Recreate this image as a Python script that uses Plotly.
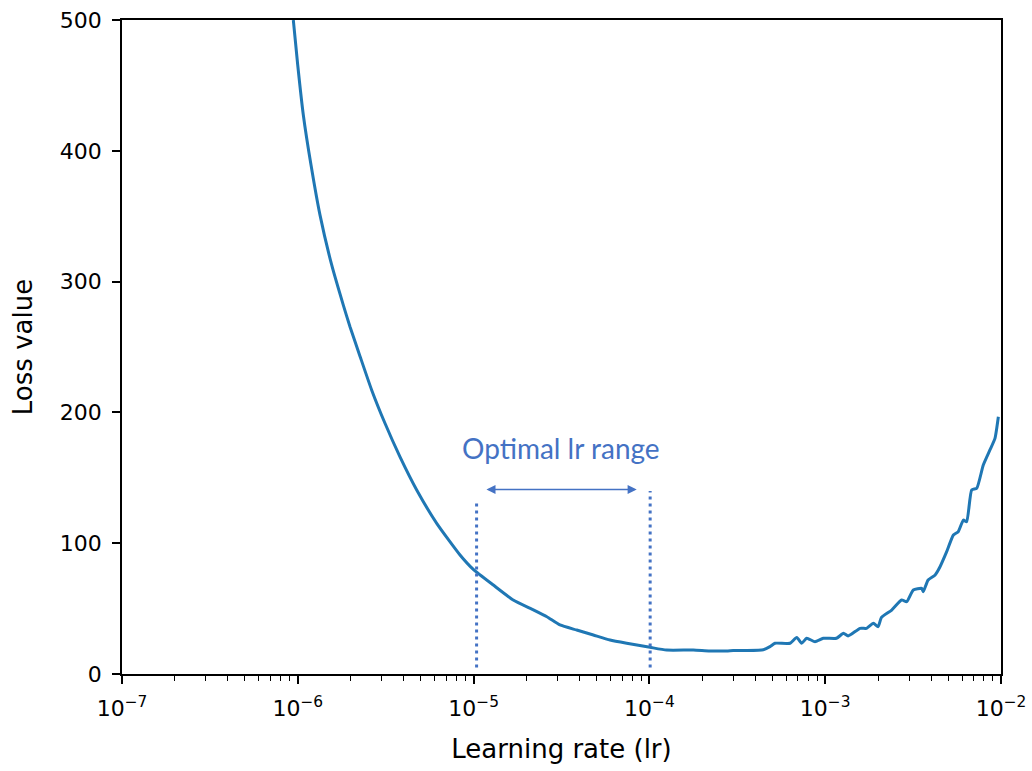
import math
import plotly.graph_objects as go

# Learning-rate range test: loss recorded at each learning rate
lr = [
    9.43e-7, 9.99e-7, 1.075e-6, 1.189e-6, 1.337e-6, 1.559e-6, 1.815e-6, 1.981e-6,
    2.258e-6, 2.633e-6, 3.133e-6, 3.814e-6, 4.746e-6, 6.168e-6, 8.37e-6, 9.96e-6,
    1.295e-5, 1.68e-5, 2.19e-5, 2.61e-5, 3.10e-5, 3.86e-5, 4.80e-5, 5.97e-5,
    7.43e-5, 1.008e-4, 1.253e-4, 1.778e-4, 2.20e-4, 2.75e-4, 3.00e-4, 3.50e-4,
    4.45e-4, 4.85e-4, 5.18e-4, 6.31e-4, 6.89e-4, 7.34e-4, 7.85e-4, 8.75e-4,
    9.75e-4, 1.16e-3, 1.27e-3, 1.35e-3, 1.58e-3, 1.72e-3, 1.88e-3, 2.00e-3,
    2.09e-3, 2.39e-3, 2.72e-3, 2.91e-3, 3.17e-3, 3.54e-3, 3.61e-3, 3.85e-3,
    4.22e-3, 4.50e-3, 4.91e-3, 5.36e-3, 5.71e-3, 6.11e-3, 6.38e-3, 6.81e-3,
    7.28e-3, 7.93e-3, 8.65e-3, 9.24e-3, 9.66e-3,
]
loss = [
    500, 465.6, 427.4, 389.1, 351, 312.7, 282, 265.5,
    243, 217, 191.7, 166, 140.7, 115.2, 91, 80,
    68, 56.6, 49, 43.8, 37.5, 33.6, 29.8, 26,
    23.5, 20.4, 18.3, 18.3, 17.6, 17.6, 17.9, 18.0,
    18.6, 20.9, 23.5, 23.5, 28, 23.5, 27.3, 24.7,
    27.3, 27.3, 31.1, 29.1, 34.9, 34.9, 38.8, 36.2,
    43.3, 48.9, 56.6, 55.3, 64.2, 65.5, 62.9, 71.9,
    75.7, 82, 93.5, 106.3, 108.8, 117.7, 116.4, 140.7,
    142, 159.8, 171.3, 180.2, 196.7,
]

# Bounds of the suggested learning-rate window
range_low = 1.04e-5
range_high = 1.01e-4
range_top_low = 133
range_top_high = 140
range_bottom = 5
arrow_loss = 141
arrow_left = 1.16e-5
arrow_right = 8.47e-5

x_major = [1e-7, 1e-6, 1e-5, 1e-4, 1e-3, 1e-2]
x_major_text = ["10<sup>\u22127</sup>", "10<sup>\u22126</sup>", "10<sup>\u22125</sup>",
                "10<sup>\u22124</sup>", "10<sup>\u22123</sup>", "10<sup>\u22122</sup>"]
y_ticks = [0, 100, 200, 300, 400, 500]

x_minor = [m * d for d in x_major[:-1] for m in range(2, 10)]

ACCENT = "#4472C4"
FONT = "DejaVu Sans"

fig = go.Figure()
fig.add_trace(go.Scatter(
    x=lr, y=loss, mode="lines",
    line=dict(color="#1f77b4", width=3, shape="spline", smoothing=0.5),
    showlegend=False, hoverinfo="skip",
))

for xv, top in [(range_low, range_top_low), (range_high, range_top_high)]:
    fig.add_shape(type="line", xref="x", yref="y",
                  x0=xv, x1=xv, y0=range_bottom, y1=top,
                  line=dict(color=ACCENT, width=3, dash="3px,4px"))

fig.add_annotation(
    x=math.log10(arrow_right), y=arrow_loss,
    ax=math.log10(arrow_left), ay=arrow_loss,
    xref="x", yref="y", axref="x", ayref="y",
    text="", showarrow=True, arrowhead=2, arrowside="end+start",
    arrowsize=1.3, arrowwidth=1.4, arrowcolor=ACCENT, standoff=0, startstandoff=0,
)
fig.add_annotation(
    x=(561 - 122) / (1001 - 122), y=(674 - 448) / (674 - 20),
    xref="x domain", yref="y domain",
    text="Optimal lr range", showarrow=False,
    font=dict(family="Lato", size=28, color=ACCENT),
)

fig.update_layout(
    width=1032, height=771,
    margin=dict(l=122, r=31, t=20, b=97),
    paper_bgcolor="white", plot_bgcolor="white",
    font=dict(family=FONT, size=22, color="black"),
)
fig.update_xaxes(
    type="log", range=[-7, -2], automargin=False,
    tickmode="array", tickvals=x_major, ticktext=x_major_text,
    ticks="outside", ticklen=8, tickwidth=1.5, tickcolor="black",
    minor=dict(tickmode="array", tickvals=x_minor, ticks="outside",
               ticklen=5, tickwidth=1.2, tickcolor="black"),
    showline=True, linecolor="black", linewidth=1.5, mirror=True,
    showgrid=False, zeroline=False, ticklabelstandoff=6,
    title=dict(text="Learning rate (lr)", standoff=20),
)
fig.update_yaxes(
    range=[0, 500], automargin=False, tickmode="array", tickvals=y_ticks,
    ticks="outside", ticklen=8, tickwidth=1.5, tickcolor="black",
    showline=True, linecolor="black", linewidth=1.5, mirror=True,
    showgrid=False, zeroline=False, ticklabelstandoff=6,
    title=dict(text="Loss value", standoff=20),
)

fig.write_html("out.html")
